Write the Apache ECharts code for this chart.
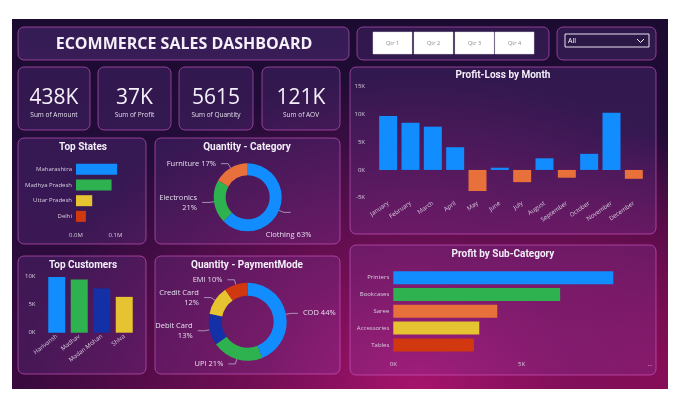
<!DOCTYPE html>
<html><head><meta charset="utf-8">
<script src="https://cdn.jsdelivr.net/npm/echarts@6/dist/echarts.min.js"></script>
<style>
html,body{margin:0;padding:0;background:#fff;width:680px;height:409px;overflow:hidden}
#bg{position:absolute;left:12px;top:19px;width:656px;height:370px;
background:
 radial-gradient(ellipse 60% 85% at 62% 100%, rgba(172,20,110,0.95) 0%, rgba(140,16,95,0.7) 40%, rgba(90,12,75,0) 100%),
 radial-gradient(ellipse 35% 70% at 100% 100%, rgba(140,12,85,0.9) 0%, rgba(140,12,85,0) 100%),
 linear-gradient(180deg,#1b0b31 0%,#250c3b 45%,#3a0a3e 100%);}
#chart{position:absolute;left:0;top:0;width:680px;height:409px}
</style></head><body>
<div id="bg"></div><div id="chart"></div>
<script>
const kpiValues = ['438K', '37K', '5615', '121K'];
const kpiLabels = ['Sum of Amount', 'Sum of Profit', 'Sum of Quantity', 'Sum of AOV'];
const quarters = ['Qtr 1', 'Qtr 2', 'Qtr 3', 'Qtr 4'];
const states = ['Maharashtra', 'Madhya Pradesh', 'Uttar Pradesh', 'Delhi'];
const stateAmount = [104000, 90000, 41000, 25000];
const stateTicks = ['0.0M', '0.1M'];
const customers = ['Harivansh', 'Madhav', 'Madan Mohan', 'Shiva'];
const customerAmount = [9950, 9500, 7900, 6400];
const categories = ['Clothing', 'Electronics', 'Furniture'];
const categoryQty = [3516, 1154, 945];
const payModes = ['COD', 'UPI', 'Debit Card', 'Credit Card', 'EMI'];
const payQty = [2466, 1191, 738, 670, 550];
const months = ['January','February','March','April','May','June','July','August','September','October','November','December'];
const monthProfit = [9700, 8500, 7800, 4100, -3800, 400, -2200, 2100, -1400, 2900, 10300, -1600];
const subCats = ['Printers', 'Bookcases', 'Saree', 'Accessories', 'Tables'];
const subProfit = [8570, 6500, 4050, 3350, 3140];
const subTicks = ['0K', '5K', '...'];

const C = {blue:'#118DFF', green:'#2DB24F', yellow:'#E6C330', red:'#D2380F', dblue:'#1430A6', orange:'#E8703A'};
const stateColors = [C.blue, C.green, C.yellow, C.red];
const custColors = [C.blue, C.green, C.dblue, C.yellow];
const catColors = [C.blue, C.green, C.orange];
const payColors = [C.blue, C.green, C.dblue, C.yellow, C.red];
const subColors = [C.blue, C.green, C.orange, C.yellow, C.red];

const TITLE_FONT = 'Roboto, "DejaVu Sans", sans-serif';
const AX = {color:'#d6cfe0', fontSize:6, fontFamily:'"Open Sans", sans-serif'};

function panel(x, y, w, h, fill) {
  return {type:'rect', z:0, shape:{x:x, y:y, width:w, height:h, r:6},
    style:{fill: fill || 'rgba(150,90,210,0.17)', stroke:'rgba(215,95,205,0.6)', lineWidth:1}};
}
function ptitle(text, x, y) {
  return {type:'text', z:5, style:{text:text, x:x, y:y, align:'center', verticalAlign:'middle',
    fill:'#f3eef8', font:'bold 10px ' + TITLE_FONT}};
}
const kpiBoxes = [[18,67,72,63],[98,67,73,63],[179,67,74,63],[262,67,78,63]];
const graphics = [
  panel(18, 27, 331, 33, 'rgba(150,90,210,0.22)'),
  {type:'text', z:5, style:{text:'ECOMMERCE SALES DASHBOARD', x:184, y:44, align:'center', verticalAlign:'middle',
    fill:'#f5f0fa', font:'bold 16px "Open Sans", sans-serif'}},
  panel(357, 27, 192, 33),
  panel(557, 27, 99, 33),
  {type:'rect', z:5, shape:{x:565, y:34, width:84, height:13}, style:{fill:'#2b1847', stroke:'#e8e2f0', lineWidth:1}},
  {type:'text', z:6, style:{text:'All', x:568, y:41, verticalAlign:'middle', fill:'#ffffff', font:'7px "Open Sans", sans-serif'}},
  {type:'polyline', z:6, shape:{points:[[637,39],[640.5,42.5],[644,39]]}, style:{stroke:'#ffffff', lineWidth:1, fill:null}},
  panel(350, 67, 306, 167),
  panel(350, 245, 306, 130),
  panel(18, 138, 128, 106),
  panel(155, 138, 185, 106),
  panel(18, 256, 128, 118),
  panel(155, 256, 185, 118),
  ptitle('Profit-Loss by Month', 503, 75),
  ptitle('Profit by Sub-Category', 503, 254),
  ptitle('Top States', 83, 147),
  ptitle('Quantity - Category', 247, 147),
  ptitle('Top Customers', 83, 265),
  ptitle('Quantity - PaymentMode', 247, 265)
];
kpiBoxes.forEach((b, i) => {
  graphics.push(panel(b[0], b[1], b[2], b[3]));
  graphics.push({type:'text', z:5, style:{text:kpiValues[i], x:b[0]+b[2]/2, y:98, align:'center', verticalAlign:'middle',
    fill:'#f5f0fa', font:'21px "Open Sans", sans-serif'}});
  graphics.push({type:'text', z:5, style:{text:kpiLabels[i], x:b[0]+b[2]/2, y:115, align:'center', verticalAlign:'middle',
    fill:'#e2dcea', font:'6.5px "Open Sans", sans-serif'}});
});
const qx = [373, 414, 455, 495];
quarters.forEach((q, i) => {
  graphics.push({type:'rect', z:5, shape:{x:qx[i], y:32, width:39, height:22}, style:{fill:'#ffffff', stroke:'#d8d8d8', lineWidth:0.5}});
  graphics.push({type:'text', z:6, style:{text:q, x:qx[i]+19.5, y:43, align:'center', verticalAlign:'middle', fill:'#8a8a8a', font:'5.5px "Open Sans", sans-serif'}});
});

const pieLabel = {color:'#e6deef', fontSize:7.5, fontFamily:'"Open Sans", sans-serif', lineHeight:10};
const pieLine = {length:5, length2:7, lineStyle:{color:'#b9afc6', width:0.8}};
const pct = p => Math.round(p.percent) + '%';
const fmtOne = p => p.name + ' ' + pct(p);
const fmtTwo = p => p.name + '\n' + pct(p);

const option = {
  animation:false,
  graphic: graphics,
  grid: [
    {left:76, width:47.4, top:161.5, height:62.7},
    {left:45.5, width:90, top:271.1, height:61.6},
    {left:377, width:268, top:86.7, height:111},
    {left:393.3, width:256.7, top:269.3, height:84}
  ],
  xAxis: [
    {gridIndex:0, type:'value', min:0, max:120000, interval:100000, splitLine:{show:false}, axisLine:{show:false}, axisTick:{show:false},
     axisLabel:Object.assign({}, AX, {margin:8, showMaxLabel:false, formatter:v => stateTicks[Math.round(v/100000)] || ''})},
    {gridIndex:1, type:'category', data:customers, axisLine:{show:false}, axisTick:{show:false},
     axisLabel:Object.assign({}, AX, {rotate:38, margin:3, interval:0})},
    {gridIndex:2, type:'category', data:months, axisLine:{show:false}, axisTick:{show:false},
     axisLabel:Object.assign({}, AX, {rotate:35, margin:5, interval:0})},
    {gridIndex:3, type:'value', min:0, max:10000, interval:5000, splitLine:{show:false}, axisLine:{show:false}, axisTick:{show:false},
     axisLabel:Object.assign({}, AX, {margin:8, formatter:v => subTicks[Math.round(v/5000)] || ''})}
  ],
  yAxis: [
    {gridIndex:0, type:'category', data:states, inverse:true, axisLine:{show:false}, axisTick:{show:false},
     axisLabel:Object.assign({}, AX, {margin:4})},
    {gridIndex:1, type:'value', min:0, max:11000, interval:5000, splitLine:{show:false}, axisLine:{show:false}, axisTick:{show:false},
     axisLabel:Object.assign({}, AX, {margin:10, showMaxLabel:false, formatter:v => (v/1000)+'K'})},
    {gridIndex:2, type:'value', min:-5000, max:15000, interval:5000, splitLine:{show:false}, axisLine:{show:false}, axisTick:{show:false},
     axisLabel:Object.assign({}, AX, {margin:12, formatter:v => (v/1000)+'K'})},
    {gridIndex:3, type:'category', data:subCats, inverse:true, axisLine:{show:false}, axisTick:{show:false},
     axisLabel:Object.assign({}, AX, {margin:4})}
  ],
  series: [
    {type:'bar', xAxisIndex:0, yAxisIndex:0, barWidth:11,
     data: stateAmount.map((v, i) => ({value:v, itemStyle:{color:stateColors[i]}}))},
    {type:'bar', xAxisIndex:1, yAxisIndex:1, barWidth:17,
     data: customerAmount.map((v, i) => ({value:v, itemStyle:{color:custColors[i]}}))},
    {type:'bar', xAxisIndex:2, yAxisIndex:2, barWidth:18,
     data: monthProfit.map(v => ({value:v, itemStyle:{color: v >= 0 ? C.blue : C.orange}}))},
    {type:'bar', xAxisIndex:3, yAxisIndex:3, barWidth:13,
     data: subProfit.map((v, i) => ({value:v, itemStyle:{color:subColors[i]}}))},
    {type:'pie', center:[247.7, 197.3], radius:[22, 34], startAngle:90, clockwise:true, percentPrecision:2,
     label:Object.assign({}, pieLabel, {formatter:fmtOne}), labelLine:pieLine,
     labelLayout: p => p.dataIndex === 0 ? {dx:-30, dy:23} : {},
     data: categories.map((c, i) => ({name:c, value:categoryQty[i], itemStyle:{color:catColors[i]},
       label: c === 'Electronics' ? {formatter:fmtTwo, align:'right'} : {}}))},
    {type:'pie', center:[247.7, 321.7], radius:[26, 39], startAngle:90, clockwise:true, percentPrecision:2,
     label:Object.assign({}, pieLabel, {formatter:fmtOne}), labelLine:pieLine,
     data: payModes.map((c, i) => ({name:c, value:payQty[i], itemStyle:{color:payColors[i]},
       label: (c === 'Debit Card' || c === 'Credit Card') ? {formatter:fmtTwo, align:'right'} : {}}))}
  ]
};
const chart = echarts.init(document.getElementById('chart'), null, {renderer:'canvas'});
chart.setOption(option);
</script>
</body></html>
